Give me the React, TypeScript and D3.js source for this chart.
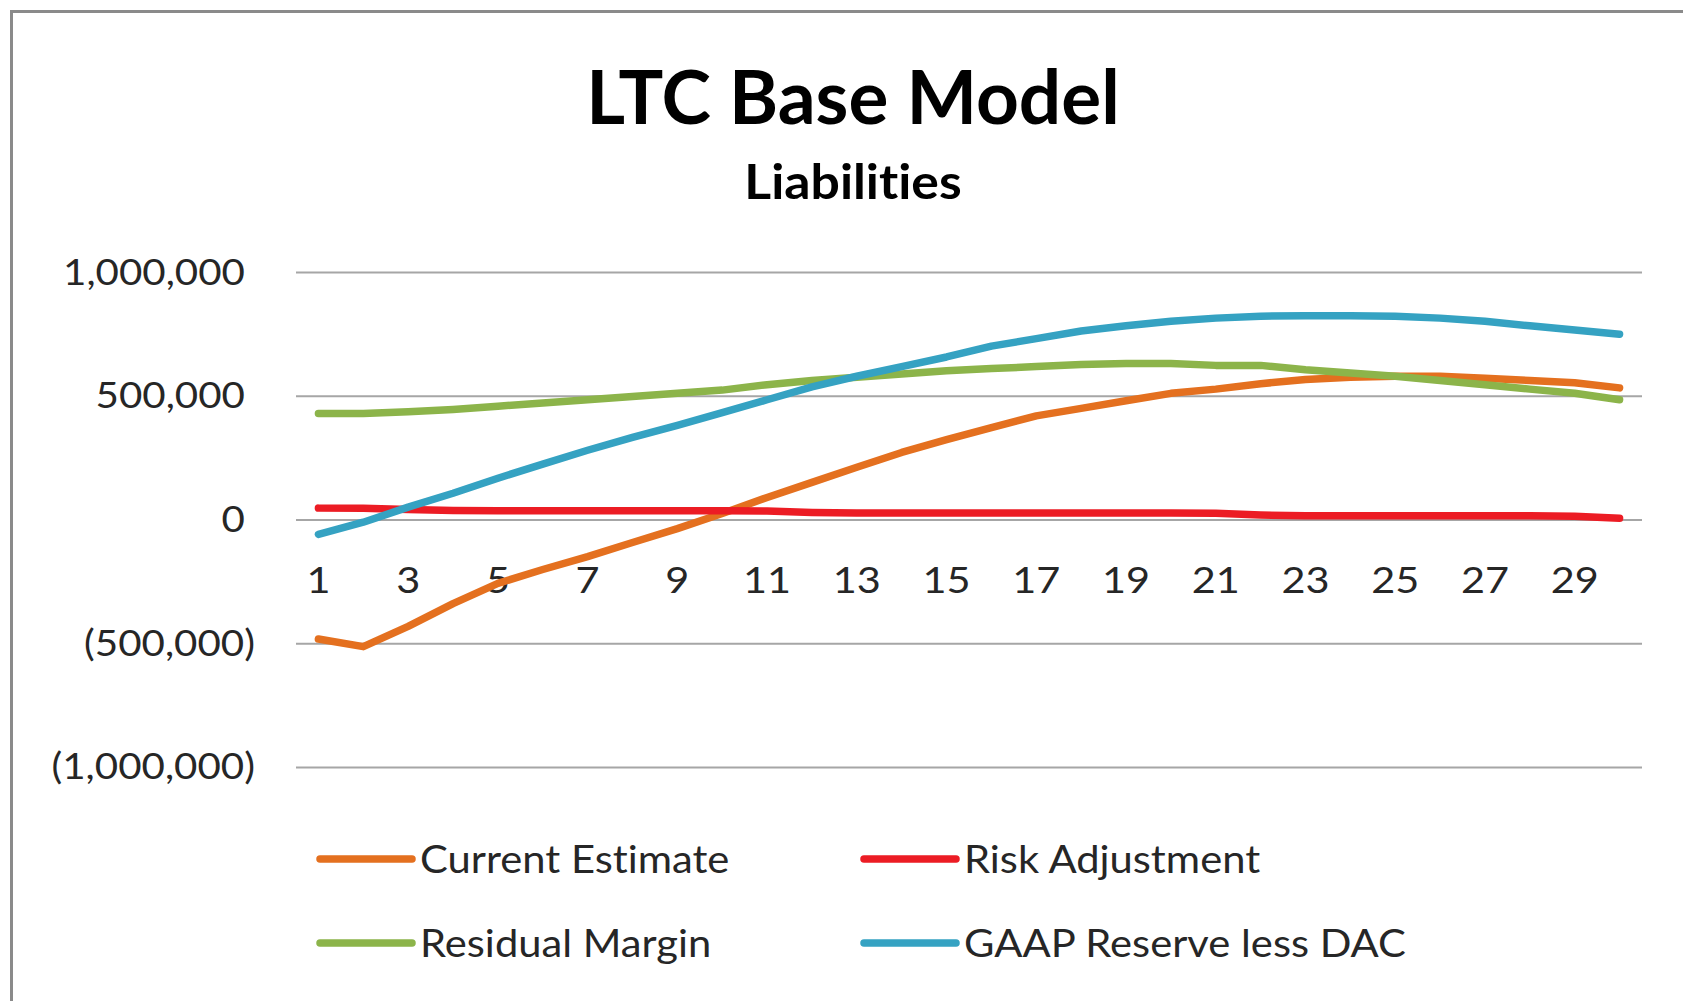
import React from "react";
import * as d3 from "d3";

const categories = [1, 2, 3, 4, 5, 6, 7, 8, 9, 10, 11, 12, 13, 14, 15, 16, 17, 18, 19, 20, 21, 22, 23, 24, 25, 26, 27, 28, 29, 30];

const currentEstimate = [-481000, -512000, -430000, -338000, -256000, -200000, -148000, -91000, -35000, 26000, 91000, 152000, 213000, 273000, 325000, 373000, 421000, 451000, 482000, 512000, 529000, 551000, 568000, 577000, 581000, 581000, 573000, 564000, 555000, 534000];
const riskAdjustment = [48000, 47000, 42000, 38000, 37000, 37000, 37000, 37000, 37000, 37000, 36000, 30000, 28000, 28000, 28000, 28000, 28000, 28000, 28000, 28000, 27000, 20000, 17000, 17000, 17000, 17000, 17000, 17000, 15000, 7000];
const residualMargin = [430000, 430000, 438000, 447000, 460000, 473000, 486000, 499000, 512000, 525000, 547000, 564000, 577000, 590000, 603000, 612000, 620000, 629000, 633000, 633000, 625000, 625000, 607000, 594000, 581000, 564000, 547000, 529000, 512000, 486000];
const gaapReserve = [-58000, -9000, 52000, 108000, 169000, 226000, 282000, 334000, 382000, 434000, 486000, 538000, 581000, 620000, 659000, 703000, 733000, 764000, 785000, 803000, 816000, 824000, 826000, 826000, 824000, 816000, 803000, 785000, 768000, 751000];

const seriesNames = ["Current Estimate", "Risk Adjustment", "Residual Margin", "GAAP Reserve less DAC"];
const seriesColors = ["#E4701F", "#EC1C24", "#8CB44A", "#35A2C2"];
const seriesValues = [currentEstimate, riskAdjustment, residualMargin, gaapReserve];

const yTicks = [-1000000, -500000, 0, 500000, 1000000];
const xTickLabels = [1, 3, 5, 7, 9, 11, 13, 15, 17, 19, 21, 23, 25, 27, 29];

const title = "LTC Base Model";
const subtitle = "Liabilities";

const FONT = "Lato, 'Open Sans', sans-serif";

function SText(props: any) {
  const { x, y, children, anchor = "start", size, weight = 400, fill = "#262626", sx = 1.12 } = props;
  return (
    <g transform={`translate(${x},${y}) scale(${sx},1)`}>
      <text
        x={0}
        y={0}
        textAnchor={anchor}
        fontSize={size}
        fontWeight={weight}
        fill={fill}
        fontFamily={FONT}
        style={{ fontVariantLigatures: "none", fontFeatureSettings: '"liga" 0, "clig" 0' }}
      >
        {children}
      </text>
    </g>
  );
}

export default function App() {
  const W = 1683;
  const H = 1001;
  const plotLeft = 296;
  const plotRight = 1642;

  const x = d3.scaleBand<number>().domain(categories).range([plotLeft, plotRight]);
  const cx = (c: number) => (x(c) as number) + x.bandwidth() / 2;
  const y = d3.scaleLinear().domain([-1000000, 1000000]).range([767.4, 272.6]);

  const fmt = d3.format(",");
  const yLabel = (v: number) => (v < 0 ? `(${fmt(-v)})` : fmt(v));

  const line = d3
    .line<number>()
    .x((_, i) => cx(categories[i]))
    .y((d) => y(d));

  const legendRows = [
    [0, 1],
    [2, 3],
  ];
  const legendColX = [320, 864];
  const legendRowY = [859, 943];

  return (
    <svg width={W} height={H} style={{ position: "absolute", left: 0, top: 0, background: "#fff" }}>
      <rect x={0} y={0} width={W} height={H} fill="#fff" />
      <rect x={11.5} y={11.5} width={W + 40} height={H + 40} fill="none" stroke="#8a8a8a" strokeWidth={3} />

      <SText x={853} y={124} anchor="middle" size={74} weight={700} fill="#000" sx={1.01}>
        {title}
      </SText>
      <SText x={853} y={199} anchor="middle" size={47} weight={700} fill="#000" sx={1.1}>
        {subtitle}
      </SText>

      {yTicks.map((t) => (
        <g key={t}>
          <line x1={plotLeft} x2={plotRight} y1={y(t)} y2={y(t)} stroke="#a6a6a6" strokeWidth={2} />
          <SText x={t < 0 ? 255 : 245} y={y(t) + 12} anchor="end" size={36}>
            {yLabel(t)}
          </SText>
        </g>
      ))}

      {xTickLabels.map((c) => (
        <SText key={c} x={cx(c)} y={593} anchor="middle" size={37}>
          {String(c)}
        </SText>
      ))}

      {seriesValues.map((vals, i) => (
        <path
          key={seriesNames[i]}
          d={line(vals) as string}
          fill="none"
          stroke={seriesColors[i]}
          strokeWidth={7.5}
          strokeLinecap="round"
          strokeLinejoin="round"
        />
      ))}

      {legendRows.map((row, r) =>
        row.map((si, c) => (
          <g key={si}>
            <line
              x1={legendColX[c]}
              x2={legendColX[c] + 92}
              y1={legendRowY[r]}
              y2={legendRowY[r]}
              stroke={seriesColors[si]}
              strokeWidth={7.5}
              strokeLinecap="round"
            />
            <SText x={legendColX[c] + 100} y={legendRowY[r] + 14} size={39} sx={1.07}>
              {seriesNames[si]}
            </SText>
          </g>
        ))
      )}
    </svg>
  );
}
